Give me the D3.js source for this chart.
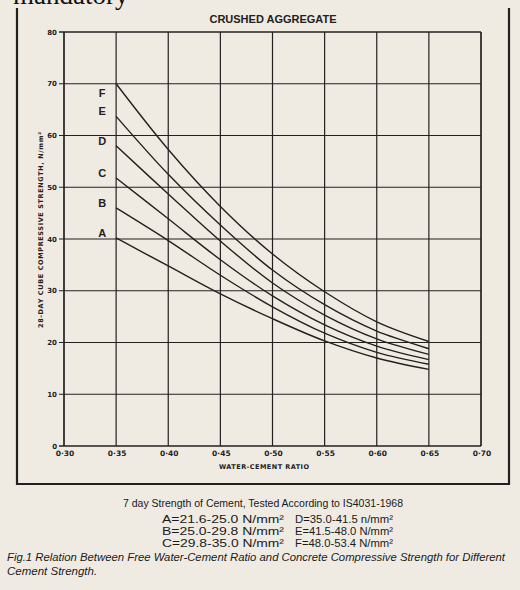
<!DOCTYPE html>
<html>
<head>
<meta charset="utf-8">
<script src="https://cdn.jsdelivr.net/npm/d3@7"></script>
<style>
    body { margin: 0; background: #efebe3; }
    svg { display: block; }
</style>
</head>
<body>
<div id="chart"></div>
<script>
// water-cement ratio where the curves are read
var ratios = [0.35, 0.40, 0.45, 0.50, 0.55, 0.60, 0.65];

// 28-day strength, one array per cement grade
var curveA = [40.2, 34.8, 29.4, 24.6, 20.3, 17.0, 14.8];
var curveB = [46.0, 39.7, 33.0, 26.9, 21.8, 18.1, 15.8];
var curveC = [51.8, 43.9, 36.0, 29.0, 23.4, 19.3, 16.7];
var curveD = [58.0, 48.7, 39.6, 31.5, 25.3, 20.7, 17.7];
var curveE = [63.7, 52.5, 42.7, 34.0, 27.3, 22.2, 18.8];
var curveF = [70.0, 57.3, 46.3, 37.1, 29.8, 24.0, 20.2];

var curveNames = ['A', 'B', 'C', 'D', 'E', 'F'];
var xTicks = ['0·30', '0·35', '0·40', '0·45', '0·50', '0·55', '0·60', '0·65', '0·70'];
var yTicks = [0, 10, 20, 30, 40, 50, 60, 70, 80];

var legendLeft = ['A=21.6-25.0 N/mm²', 'B=25.0-29.8 N/mm²', 'C=29.8-35.0 N/mm²'];
var legendRight = ['D=35.0-41.5 n/mm²', 'E=41.5-48.0 N/mm²', 'F=48.0-53.4 N/mm²'];

var series = [curveA, curveB, curveC, curveD, curveE, curveF].map(function(vals, i) {
    return {
        name: curveNames[i],
        points: vals.map(function(v, j) { return { r: ratios[j], s: v }; })
    };
});

var svg = d3.select('#chart').append('svg')
    .attr('width', 520)
    .attr('height', 590);

var ink = '#232120';

// bit of the page text above the figure, cut off by the scan
svg.append('text')
    .attr('x', 13)
    .attr('y', 4)
    .attr('font-family', 'Liberation Serif, serif')
    .attr('font-size', 27)
    .attr('fill', '#111')
    .text('mandatory');

// figure frame
svg.append('path')
    .attr('d', 'M17,8V484H509V8')
    .attr('fill', 'none')
    .attr('stroke', ink)
    .attr('stroke-width', 2.2);

var x = d3.scaleLinear().domain([0.30, 0.70]).range([64, 481]);
var y = d3.scaleLinear().domain([0, 80]).range([446, 32]);

svg.append('text')
    .attr('x', 273)
    .attr('y', 23)
    .attr('text-anchor', 'middle')
    .attr('font-family', 'Liberation Sans, Arial, sans-serif')
    .attr('font-weight', 'bold')
    .attr('font-size', 11)
    .attr('fill', ink)
    .text('CRUSHED AGGREGATE');

// grid
var grid = svg.append('g');
grid.selectAll('.hline')
    .data(yTicks)
    .enter()
    .append('line')
    .attr('class', 'hline')
    .attr('x1', x(0.30) - 5)
    .attr('x2', x(0.70))
    .attr('y1', function(d) { return y(d); })
    .attr('y2', function(d) { return y(d); })
    .attr('stroke', ink)
    .attr('stroke-width', function(d) { return d === 0 || d === 80 ? 1.7 : 1.2; });

grid.selectAll('.vline')
    .data(xTicks)
    .enter()
    .append('line')
    .attr('class', 'vline')
    .attr('x1', function(d, i) { return x(0.30 + i * 0.05); })
    .attr('x2', function(d, i) { return x(0.30 + i * 0.05); })
    .attr('y1', y(0))
    .attr('y2', y(80))
    .attr('stroke', ink)
    .attr('stroke-width', function(d, i) { return i === 0 || i === 8 ? 1.7 : 1.2; });

// tick labels
svg.selectAll('.ylab')
    .data(yTicks)
    .enter()
    .append('text')
    .attr('class', 'ylab')
    .attr('x', x(0.30) - 7)
    .attr('y', function(d) { return y(d) + 2.5; })
    .attr('text-anchor', 'end')
    .attr('font-family', 'DejaVu Sans, sans-serif')
    .attr('font-weight', 'bold')
    .attr('font-size', 7)
    .attr('fill', ink)
    .text(function(d) { return d; });

svg.selectAll('.xlab')
    .data(xTicks)
    .enter()
    .append('text')
    .attr('class', 'xlab')
    .attr('x', function(d, i) { return x(0.30 + i * 0.05) + 1; })
    .attr('y', y(0) + 10)
    .attr('text-anchor', 'middle')
    .attr('font-family', 'DejaVu Sans, sans-serif')
    .attr('font-weight', 'bold')
    .attr('font-size', 7.5)
    .attr('fill', ink)
    .text(function(d) { return d; });

// axis titles
svg.append('text')
    .attr('x', 264)
    .attr('y', 469)
    .attr('text-anchor', 'middle')
    .attr('font-family', 'DejaVu Sans, sans-serif')
    .attr('font-weight', 'bold')
    .attr('font-size', 6.5)
    .attr('textLength', 90)
    .attr('lengthAdjust', 'spacing')
    .attr('fill', ink)
    .text('WATER-CEMENT RATIO');

svg.append('text')
    .attr('transform', 'translate(43,230) rotate(-90)')
    .attr('text-anchor', 'middle')
    .attr('font-family', 'DejaVu Sans, sans-serif')
    .attr('font-weight', 'bold')
    .attr('font-size', 6.5)
    .attr('textLength', 196)
    .attr('lengthAdjust', 'spacing')
    .attr('fill', ink)
    .text('28-DAY CUBE COMPRESSIVE STRENGTH, N/mm²');

// curves
var line = d3.line()
    .x(function(d) { return x(d.r); })
    .y(function(d) { return y(d.s); })
    .curve(d3.curveCatmullRom.alpha(0.5));

svg.selectAll('.curve')
    .data(series)
    .enter()
    .append('path')
    .attr('class', 'curve')
    .attr('d', function(d) { return line(d.points); })
    .attr('fill', 'none')
    .attr('stroke', ink)
    .attr('stroke-width', 1.4);

svg.selectAll('.clab')
    .data(series)
    .enter()
    .append('text')
    .attr('class', 'clab')
    .attr('x', x(ratios[0]) - 14)
    .attr('y', function(d) {
        var top = y(d.points[0].s);
        return d.name === 'F' ? top + 13 : top - 1;
    })
    .attr('text-anchor', 'middle')
    .attr('font-family', 'Liberation Sans, Arial, sans-serif')
    .attr('font-weight', 'bold')
    .attr('font-size', 11)
    .attr('fill', ink)
    .text(function(d) { return d.name; });

// caption under the figure
var cap = svg.append('g')
    .attr('font-family', 'Liberation Sans, Arial, sans-serif')
    .attr('fill', '#1a1a1a');

cap.append('text')
    .attr('x', 263)
    .attr('y', 507)
    .attr('text-anchor', 'middle')
    .attr('font-size', 11.5)
    .attr('textLength', 280)
    .attr('lengthAdjust', 'spacingAndGlyphs')
    .text('7 day Strength of Cement, Tested According to IS4031-1968');

cap.selectAll('.legL')
    .data(legendLeft)
    .enter()
    .append('text')
    .attr('class', 'legL')
    .attr('x', 162)
    .attr('y', function(d, i) { return 523 + i * 12; })
    .attr('font-size', 11)
    .attr('textLength', 122)
    .attr('lengthAdjust', 'spacingAndGlyphs')
    .text(function(d) { return d; });

cap.selectAll('.legR')
    .data(legendRight)
    .enter()
    .append('text')
    .attr('class', 'legR')
    .attr('x', 295)
    .attr('y', function(d, i) { return 523 + i * 12; })
    .attr('font-size', 11)
    .attr('textLength', 98)
    .attr('lengthAdjust', 'spacingAndGlyphs')
    .text(function(d) { return d; });

cap.append('text')
    .attr('x', 7)
    .attr('y', 561)
    .attr('font-size', 11.5)
    .attr('font-style', 'italic')
    .attr('textLength', 498)
    .attr('lengthAdjust', 'spacingAndGlyphs')
    .text('Fig.1 Relation Between Free Water-Cement Ratio and Concrete Compressive Strength for Different');

cap.append('text')
    .attr('x', 7)
    .attr('y', 575)
    .attr('font-size', 11.5)
    .attr('font-style', 'italic')
    .text('Cement Strength.');
</script>
</body>
</html>
